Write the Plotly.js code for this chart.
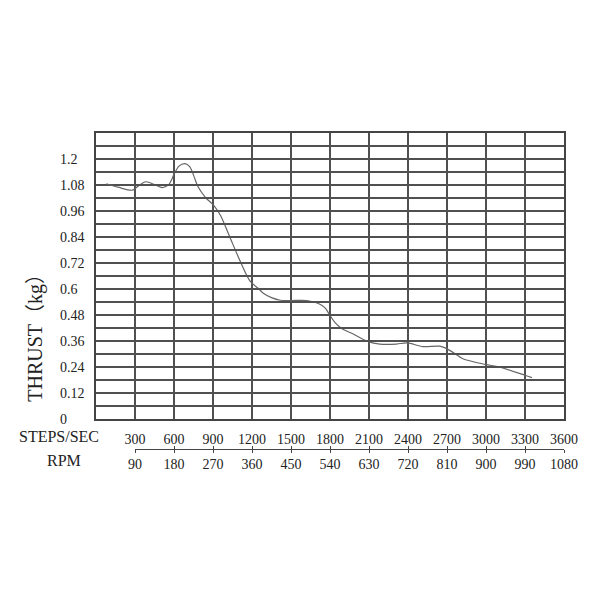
<!DOCTYPE html>
<html>
<head>
<meta charset="utf-8">
<script src="https://cdn.plot.ly/plotly-3.0.1.min.js"></script>
<style>
  body { margin: 0; background: #fff; }
  #chart { width: 600px; height: 600px; }
</style>
</head>
<body>
<div id="chart"></div>
<script>
// curve (steps/sec -> thrust kg)
var steps = [80, 170, 280, 330, 383, 450, 511, 561, 600, 638, 684, 722, 753, 784, 843, 907, 958, 1034, 1111, 1187, 1251, 1290, 1350, 1417, 1500, 1622, 1711, 1762, 1795, 1839, 1890, 1979, 2094, 2183, 2311, 2395, 2515, 2643, 2694, 2745, 2822, 2995, 3102, 3299, 3353];
var thrust = [1.086, 1.070, 1.056, 1.078, 1.095, 1.082, 1.068, 1.083, 1.129, 1.167, 1.179, 1.164, 1.121, 1.073, 1.022, 0.985, 0.939, 0.833, 0.726, 0.635, 0.601, 0.579, 0.560, 0.548, 0.547, 0.547, 0.533, 0.513, 0.483, 0.445, 0.418, 0.392, 0.357, 0.346, 0.346, 0.351, 0.334, 0.336, 0.326, 0.308, 0.278, 0.252, 0.240, 0.202, 0.191];

// ticks
var stepTicks = [300, 600, 900, 1200, 1500, 1800, 2100, 2400, 2700, 3000, 3300, 3600];
var rpmTicks = [90, 180, 270, 360, 450, 540, 630, 720, 810, 900, 990, 1080];
var yGrid = [0, 0.06, 0.12, 0.18, 0.24, 0.30, 0.36, 0.42, 0.48, 0.54, 0.60, 0.66, 0.72, 0.78, 0.84, 0.90, 0.96, 1.02, 1.08, 1.14, 1.20, 1.26];
var yLabelVals = [0, 0.12, 0.24, 0.36, 0.48, 0.6, 0.72, 0.84, 0.96, 1.08, 1.2];
var yLabels = ['0', '0.12', '0.24', '0.36', '0.48', '0.6', '0.72', '0.84', '0.96', '1.08', '1.2'];

var fnt = 'Liberation Serif, Noto Sans CJK SC, serif';

var curve = {
  x: steps, y: thrust, type: 'scatter', mode: 'lines',
  line: {color: '#666', width: 1.2, shape: 'spline', smoothing: 0.8},
  hoverinfo: 'skip', showlegend: false
};
// empty helpers so the rpm axes get drawn
var rpmA = {x: rpmTicks, y: rpmTicks.map(function () { return null; }), xaxis: 'x2', mode: 'markers', showlegend: false, hoverinfo: 'skip'};
var rpmB = {x: rpmTicks, y: rpmTicks.map(function () { return null; }), xaxis: 'x3', mode: 'markers', showlegend: false, hoverinfo: 'skip'};

// plot area: x 96..564 (12 x 39px), y 133..419 (22 x 13px), rpm line at 449
var notes = yLabelVals.map(function (v, i) {
  return {text: yLabels[i], x: -0.081, xref: 'paper', xanchor: 'left',
    y: v, yref: 'y', yanchor: 'middle', showarrow: false,
    font: {family: fnt, size: 14, color: '#222'}};
});
notes.push({text: 'THRUST（kg）', textangle: -90, x: -0.131, xref: 'paper', xanchor: 'center',
  y: 0.367, yref: 'paper', yanchor: 'middle', showarrow: false,
  font: {family: fnt, size: 20, color: '#222'}});
notes.push({text: 'STEPS/SEC', x: -0.080, xref: 'paper', xanchor: 'center',
  y: 0.038, yref: 'paper', yanchor: 'middle', showarrow: false,
  font: {family: fnt, size: 16, color: '#222'}});
notes.push({text: 'RPM', x: -0.069, xref: 'paper', xanchor: 'center',
  y: -0.035, yref: 'paper', yanchor: 'middle', showarrow: false,
  font: {family: fnt, size: 16, color: '#222'}});

var layout = {
  width: 600, height: 600,
  margin: {l: 96, r: 36, t: 133, b: 151},
  paper_bgcolor: '#fff', plot_bgcolor: 'rgba(0,0,0,0)',
  font: {family: fnt, size: 14, color: '#222'},
  xaxis: {
    range: [0, 3600], anchor: 'y', tickmode: 'array', tickvals: stepTicks,
    ticktext: stepTicks.map(String), ticks: '', ticklabelstandoff: 6,
    showgrid: true, gridcolor: '#505050', gridwidth: 2,
    showline: true, mirror: true, linecolor: '#444', linewidth: 2,
    zeroline: false, tickfont: {family: fnt, size: 14, color: '#222'}
  },
  xaxis2: {
    range: [90, 1080], domain: [1 / 12, 1], anchor: 'free', position: 0,
    tickmode: 'array', tickvals: rpmTicks, ticktext: rpmTicks.map(String),
    ticks: 'inside', ticklen: 3, tickwidth: 1, tickcolor: '#444',
    showgrid: false, zeroline: false, showline: true, linecolor: '#444', linewidth: 1,
    ticklabelstandoff: 2, tickfont: {family: fnt, size: 14, color: '#222'}
  },
  xaxis3: {
    range: [90, 1080], domain: [1 / 12, 1], anchor: 'free', position: 0,
    tickmode: 'array', tickvals: rpmTicks, ticks: 'outside', ticklen: 3,
    tickwidth: 1, tickcolor: '#444', showticklabels: false,
    showgrid: false, zeroline: false, showline: false
  },
  yaxis: {
    range: [0, 1.32], domain: [30 / 316, 1], tickmode: 'array', tickvals: yGrid,
    showticklabels: false, ticks: '',
    showgrid: true, gridcolor: '#505050', gridwidth: 2,
    showline: true, mirror: true, linecolor: '#444', linewidth: 2, zeroline: false
  },
  annotations: notes
};

Plotly.newPlot('chart', [curve, rpmA, rpmB], layout, {staticPlot: true});
</script>
</body>
</html>
